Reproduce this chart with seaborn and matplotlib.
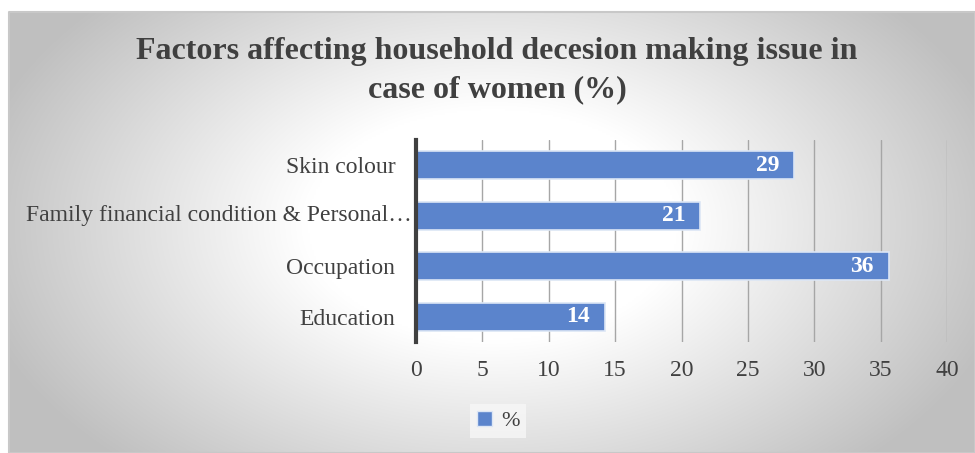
import numpy as np
import pandas as pd
import matplotlib
matplotlib.use("Agg")
import matplotlib.pyplot as plt
import matplotlib.transforms as mtransforms
import seaborn as sns

categories = ["Skin colour", "Family financial condition & Personal\u2026", "Occupation", "Education"]
values = [28.5, 21.4, 35.6, 14.2]
labels = ["29", "21", "36", "14"]
xticks = [0, 5, 10, 15, 20, 25, 30, 35, 40]
title_lines = ["Factors affecting household decesion making issue in", "case of women (%)"]
series_name = "%"

sns.set_theme(style="white")
plt.rcParams['font.family'] = ['Liberation Serif', 'DejaVu Serif']

W, H = 975, 453
fig = plt.figure(figsize=(W / 100, H / 100), dpi=100)
fig.patch.set_facecolor("white")

# background radial gradient panel
bg = fig.add_axes([9 / W, 0, 1 - 9 / W, (H - 12) / H])
bg.set_axis_off()
ny, nx = 220, 480
yy, xx = np.mgrid[0:ny, 0:nx]
cx, cy = 0.50 * nx, 0.48 * ny
r = np.sqrt(((xx - cx) / (0.55 * nx)) ** 2 + ((yy - cy) / (0.75 * ny)) ** 2)
t = np.clip((r - 0.35) / 0.65, 0, 1)
g = 1.0 - 0.25 * t
img = np.dstack([g, g, g])
bg.imshow(img, aspect="auto", extent=[0, 1, 0, 1], interpolation="bilinear")
bg.set_xlim(0, 1); bg.set_ylim(0, 1)
bg.plot([0, 1, 1, 0, 0], [0, 0, 1, 1, 0], color="#c8c8c8", lw=1.5, transform=bg.transAxes, clip_on=False)

ax = fig.add_axes([416 / W, 1 - 342 / H, 531 / W, 202 / H])
ax.patch.set_alpha(0)
df = pd.DataFrame({"cat": categories, "val": values})
sns.barplot(data=df, x="val", y="cat", orient="h", color="#5b84cc", saturation=1,
            width=0.56, edgecolor="#dce6f5", linewidth=1.2, ax=ax, zorder=3)
ax.set_xlim(0, 40)
ax.set_ylim(3.5, -0.5)
ax.set_xticks(xticks)
ax.set_xticklabels([str(v) for v in xticks], fontsize=17, color="#404040")
ax.set_yticks(range(len(categories)))
ax.set_yticklabels(["" if len(c) > 30 else c for c in categories])
ax.tick_params(axis="y", labelsize=17, labelcolor="#404040", length=0, pad=15)
ax.tick_params(axis="x", length=0, pad=13)
ax.set_xlabel(""); ax.set_ylabel("")
ax.grid(axis="x", color="#a6a6a6", lw=1, zorder=0)
ax.grid(axis="y", visible=False)
for s in ["top", "right", "bottom"]:
    ax.spines[s].set_visible(False)
ax.spines["left"].set_color("#404040")
ax.spines["left"].set_linewidth(3)
ax.spines["left"].set_zorder(5)

# long (truncated) label overflows toward the axis, as in the original
blend = mtransforms.blended_transform_factory(ax.transAxes, ax.transData)
for i, c in enumerate(categories):
    if len(c) > 30:
        ax.text(-4 / 531, i, c, transform=blend, ha="right", va="center",
                fontsize=17, color="#404040", zorder=6)

for i, (v, lab) in enumerate(zip(values, labels)):
    ax.text(v - 1.1, i, lab, ha="right", va="center", color="white",
            fontsize=17, fontweight="bold", zorder=6)

fig.text(497 / W, 1 - 51 / H, title_lines[0], ha="center", va="center", fontsize=23,
         fontweight="bold", color="#404040")
fig.text(497 / W, 1 - 90 / H, title_lines[1], ha="center", va="center", fontsize=23,
         fontweight="bold", color="#404040")

from matplotlib.patches import Patch
leg = fig.legend(handles=[Patch(facecolor="#5b84cc", edgecolor="#dce6f5", label=series_name)],
                 loc="center", bbox_to_anchor=(498 / W, 1 - 421 / H), frameon=True,
                 fontsize=16, handlelength=0.7, handleheight=0.7, handletextpad=0.4,
                 borderpad=0.3, borderaxespad=0)
leg.get_frame().set_facecolor("#f7f7f7")
leg.get_frame().set_edgecolor("none")
leg.get_frame().set_boxstyle("square", pad=0)
for t_ in leg.get_texts():
    t_.set_color("#404040")

fig.savefig("out.png", dpi=100)
